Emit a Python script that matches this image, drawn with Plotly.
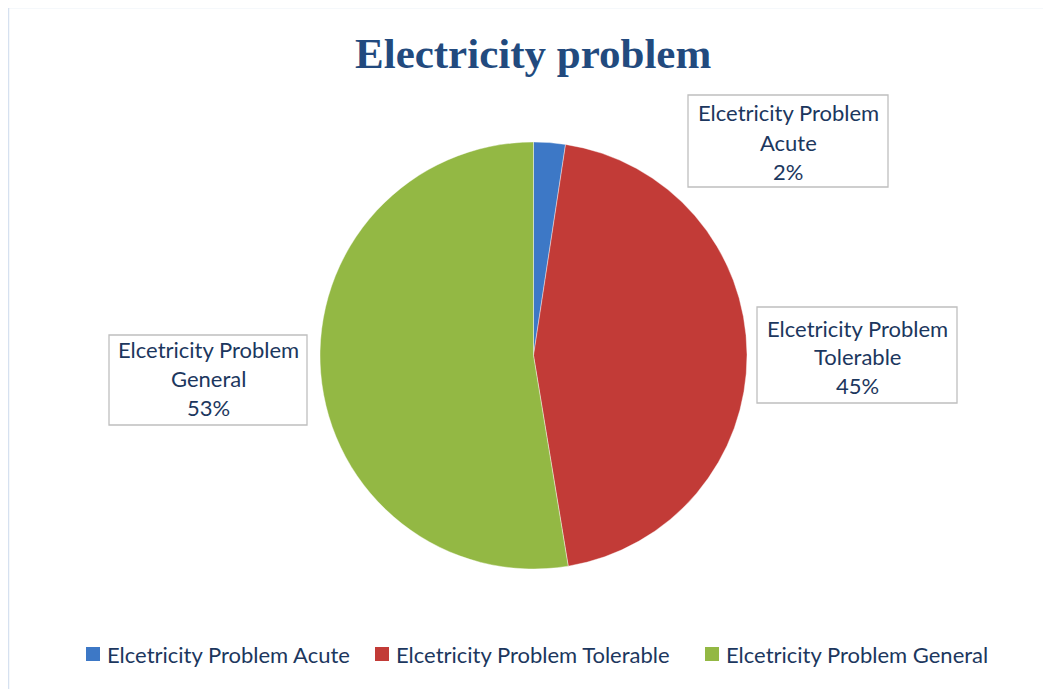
import plotly.graph_objects as go

# ---- data ----
categories = ["Elcetricity Problem Acute", "Elcetricity Problem Tolerable", "Elcetricity Problem General"]
label_line1 = ["Elcetricity Problem", "Elcetricity Problem", "Elcetricity Problem"]
label_line2 = ["Acute", "Tolerable", "General"]
values = [2.4, 45.0, 52.6]
colors = ["#3D78C6", "#C23B37", "#93B844"]
title_text = "Electricity problem"

W, H = 1051, 689
OFF = 8  # page body margin
TEXT_COLOR = "#1C375E"
FONT = "Lato"


def px(x):
    return (x - OFF) / W


def py(y):
    return 1 - (y - OFF) / H


fig = go.Figure()

# pie centre (533.5, 355.5), radius 213.5 (page coordinates)
cx, cy, r = 533.5, 355.5, 213.5
fig.add_trace(go.Pie(
    labels=categories,
    values=values,
    marker=dict(colors=colors, line=dict(color="rgba(255,255,255,0.4)", width=1)),
    sort=False,
    direction="clockwise",
    rotation=0,
    textinfo="none",
    hoverinfo="label+percent",
    showlegend=False,
    domain=dict(x=[px(cx - r), px(cx + r)], y=[py(cy + r), py(cy - r)]),
))

shapes = []
annotations = []

# outer chart border (right/bottom clipped)
shapes.append(dict(type="rect", xref="paper", yref="paper",
                   x0=px(8.5), x1=px(W + 30), y0=py(H + 30), y1=py(7.5),
                   line=dict(color="#D6E1F0", width=1.5), fillcolor="rgba(0,0,0,0)"))

# title
annotations.append(dict(text="<b>" + title_text + "</b>", x=px(533), y=py(53),
                        xref="paper", yref="paper", showarrow=False,
                        xanchor="center", yanchor="middle",
                        font=dict(family="Liberation Serif", size=43, color="#224A7E")))

# data label boxes: (x0, x1, y0, y1, first line centre y)
boxes = [
    (688, 888, 95, 187, 113),
    (757, 957, 307, 403, 328),
    (109, 307, 335, 425, 349),
]
total = sum(values)
for i, (x0, x1, y0, y1, ty) in enumerate(boxes):
    shapes.append(dict(type="rect", xref="paper", yref="paper",
                       x0=px(x0), x1=px(x1), y0=py(y1), y1=py(y0),
                       line=dict(color="#BFBFBF", width=1.3), fillcolor="white"))
    lines = [label_line1[i], label_line2[i], f"{round(values[i] / total * 100)}%"]
    for k, t in enumerate(lines):
        annotations.append(dict(text=t, x=px((x0 + x1) / 2), y=py(ty + 29 * k),
                                xref="paper", yref="paper", showarrow=False,
                                xanchor="center", yanchor="middle",
                                font=dict(family=FONT, size=22, color=TEXT_COLOR)))

# legend (manual)
legend_sq_x = [86, 375, 705]
legend_y = 654
for i, sx in enumerate(legend_sq_x):
    shapes.append(dict(type="rect", xref="paper", yref="paper",
                       x0=px(sx), x1=px(sx + 14), y0=py(legend_y + 7), y1=py(legend_y - 7),
                       line=dict(width=0), fillcolor=colors[i]))
    annotations.append(dict(text=categories[i], x=px(sx + 19), y=py(legend_y),
                            xref="paper", yref="paper", showarrow=False,
                            xanchor="left", yanchor="middle",
                            font=dict(family=FONT, size=22, color=TEXT_COLOR)))

fig.update_layout(
    width=W, height=H,
    margin=dict(l=0, r=0, t=0, b=0),
    paper_bgcolor="white",
    plot_bgcolor="white",
    shapes=shapes,
    annotations=annotations,
    showlegend=False,
)

fig.write_html("out.html")
